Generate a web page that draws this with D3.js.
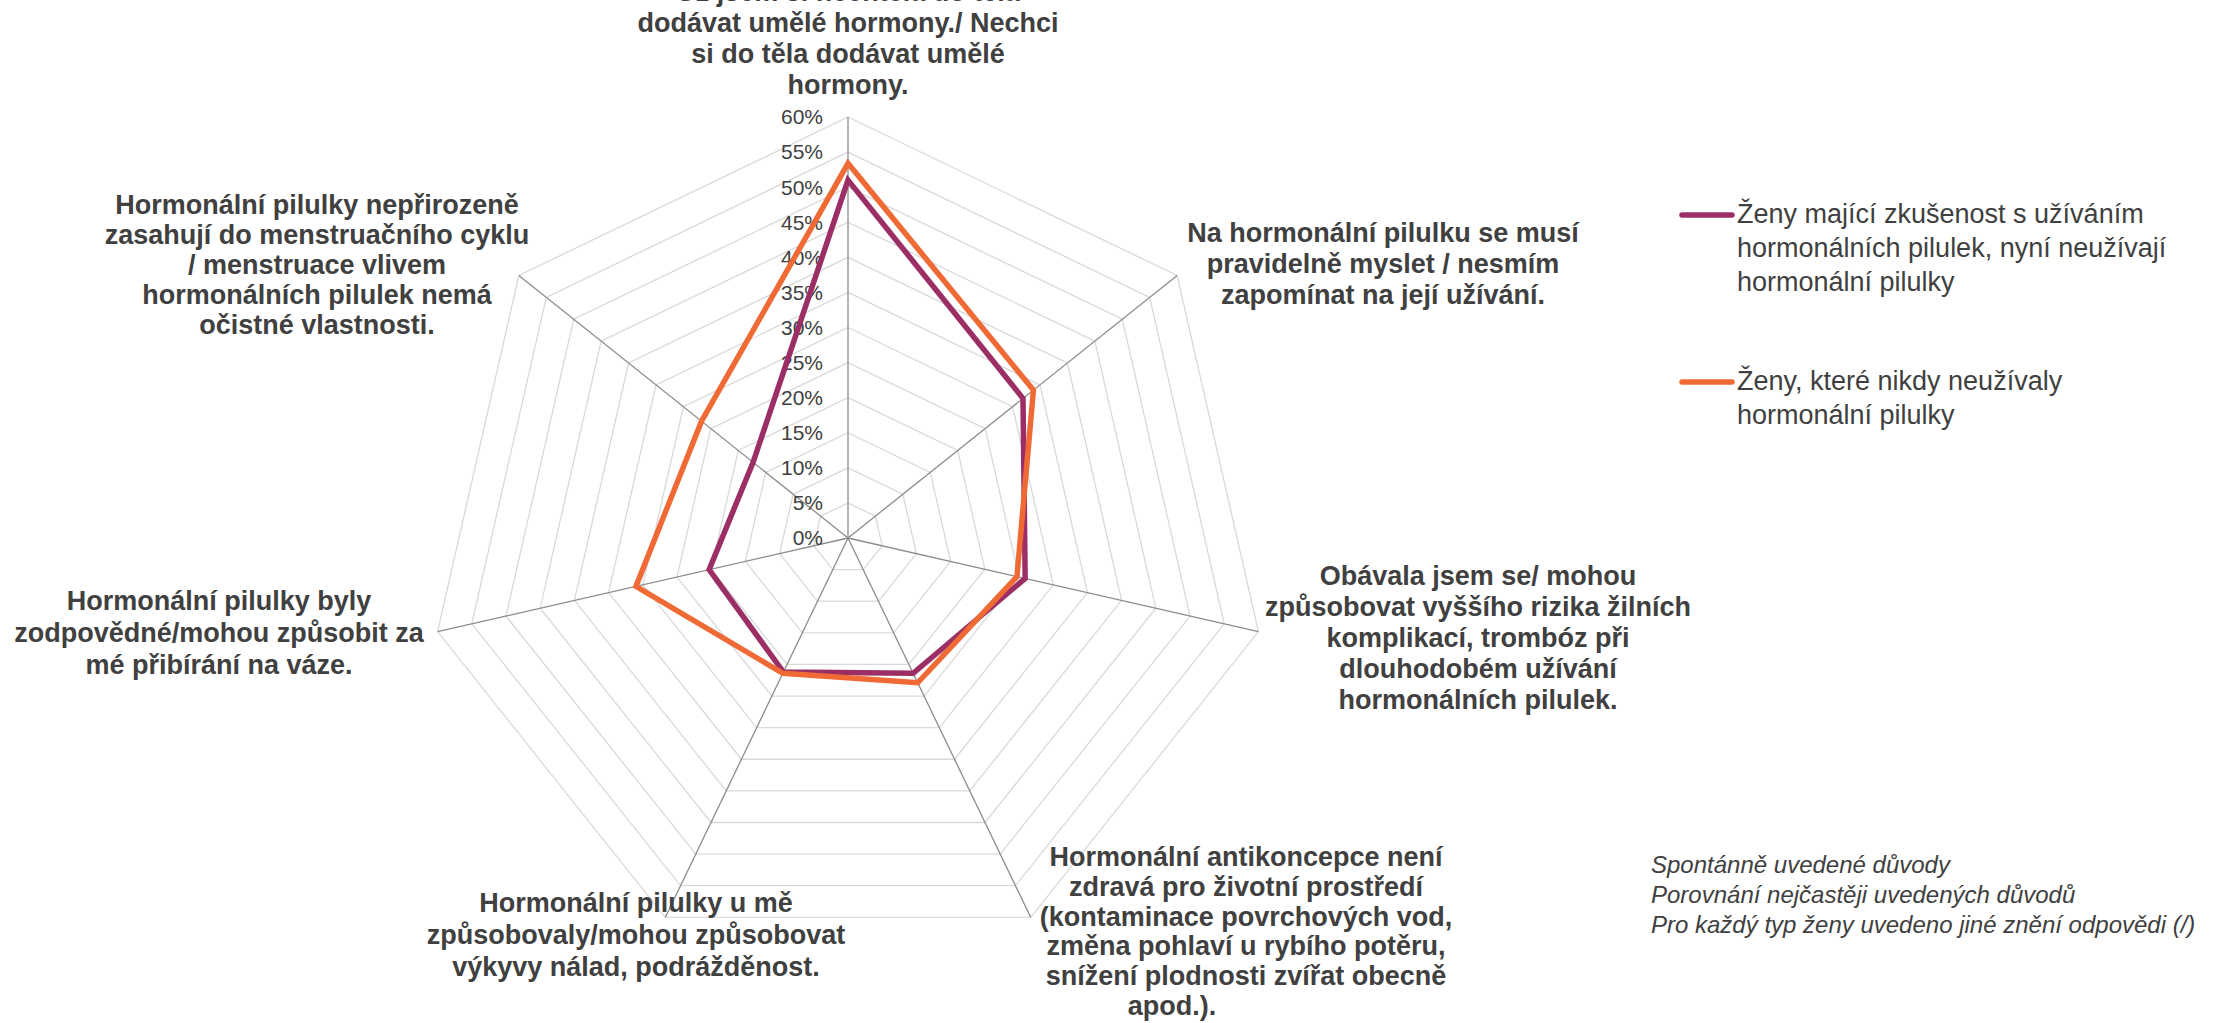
<!DOCTYPE html>
<html>
<head>
<meta charset="utf-8">
<script src="https://cdn.jsdelivr.net/npm/d3@7"></script>
<style>
  html, body { margin: 0; padding: 0; background: #fff; }
  svg { display: block; }
  text { font-family: "Liberation Sans", Arial, sans-serif; fill: #404040; }
</style>
</head>
<body>
<svg id="chart" width="2216" height="1023"></svg>
<script>
// ---------- DATA ----------
const categories = [
  ["Už jsem si nechtěla do těla", "dodávat umělé hormony./ Nechci", "si do těla dodávat umělé", "hormony."],
  ["Na hormonální pilulku se musí", "pravidelně myslet / nesmím", "zapomínat na její užívání."],
  ["Obávala jsem se/ mohou", "způsobovat vyššího rizika žilních", "komplikací, trombóz při", "dlouhodobém užívání", "hormonálních pilulek."],
  ["Hormonální antikoncepce není", "zdravá pro životní prostředí", "(kontaminace povrchových vod,", "změna pohlaví u rybího potěru,", "snížení plodnosti zvířat obecně", "apod.)."],
  ["Hormonální pilulky u mě", "způsobovaly/mohou způsobovat", "výkyvy nálad, podrážděnost."],
  ["Hormonální pilulky byly", "zodpovědné/mohou způsobit za", "mé přibírání na váze."],
  ["Hormonální pilulky nepřirozeně", "zasahují do menstruačního cyklu", "/ menstruace vlivem", "hormonálních pilulek nemá", "očistné vlastnosti."]
];
const seriesNames = [
  ["Ženy mající zkušenost s užíváním", "hormonálních pilulek, nyní neužívají", "hormonální pilulky"],
  ["Ženy, které nikdy neužívaly", "hormonální pilulky"]
];
const seriesPast  = [0.510, 0.319, 0.259, 0.214, 0.212, 0.203, 0.173];
const seriesNever = [0.534, 0.338, 0.247, 0.229, 0.214, 0.310, 0.267];
const tickValues = [0, 0.05, 0.10, 0.15, 0.20, 0.25, 0.30, 0.35, 0.40, 0.45, 0.50, 0.55, 0.60];
const notes = [
  "Spontánně uvedené důvody",
  "Porovnání nejčastěji uvedených důvodů",
  "Pro každý typ ženy uvedeno jiné znění odpovědi (/)"
];

// ---------- LAYOUT ----------
const colors = ["#9b2f65", "#f06a35"];
const cx = 848, cy = 538, R = 421;
const labelLayout = [
  {x: 848,  y: 0.5, lh: 31,   dxLast: 0},
  {x: 1383, y: 242, lh: 31,   dxLast: 0},
  {x: 1478, y: 585, lh: 31,   dxLast: 0},
  {x: 1246, y: 866, lh: 29.8, dxLast: -74},
  {x: 636,  y: 912, lh: 32,   dxLast: 0},
  {x: 219,  y: 610, lh: 32,   dxLast: 0},
  {x: 317,  y: 214, lh: 30,   dxLast: 0}
];

const svg = d3.select("#chart");
const g = svg.append("g").attr("transform", `translate(${cx},${cy})`);

const r = d3.scaleLinear().domain([0, 0.6]).range([0, R]);
const n = categories.length;
const angle = d3.scaleLinear().domain([0, n]).range([0, 2 * Math.PI]);
const px = (i, v) => r(v) * Math.sin(angle(i));
const py = (i, v) => -r(v) * Math.cos(angle(i));

// grid rings
const idx = d3.range(n);
tickValues.slice(1).forEach(t => {
  g.append("path")
    .attr("d", d3.line()(idx.map(i => [px(i, t), py(i, t)])) + "Z")
    .attr("fill", "none")
    .attr("stroke", "#d9d9d9")
    .attr("stroke-width", 1.3);
});
// spokes
idx.forEach(i => {
  g.append("line")
    .attr("x1", 0).attr("y1", 0)
    .attr("x2", px(i, 0.6)).attr("y2", py(i, 0.6))
    .attr("stroke", "#8c8c8c")
    .attr("stroke-width", 1.3);
});

// tick labels
g.selectAll("text.tick")
  .data(tickValues)
  .join("text")
  .attr("class", "tick")
  .attr("x", -25)
  .attr("y", d => -r(d))
  .attr("dy", "0.35em")
  .attr("text-anchor", "end")
  .style("font-size", "21px")
  .text(d => d3.format(".0%")(d));

// series
const radial = d3.lineRadial()
  .angle((d, i) => angle(i))
  .radius(d => r(d))
  .curve(d3.curveLinearClosed);

[seriesPast, seriesNever].forEach((s, k) => {
  g.append("path")
    .attr("d", radial(s))
    .attr("fill", "none")
    .attr("stroke", colors[k])
    .attr("stroke-width", 5.5)
    .attr("stroke-linejoin", "miter");
});

// category labels
categories.forEach((lines, i) => {
  const L = labelLayout[i];
  const t = svg.append("text")
    .attr("text-anchor", "middle")
    .style("font-size", "27px")
    .style("font-weight", "bold");
  lines.forEach((ln, j) => {
    t.append("tspan")
      .attr("x", L.x + (j === lines.length - 1 ? L.dxLast : 0))
      .attr("y", L.y + j * L.lh)
      .text(ln);
  });
});

// legend
const legendY = [215, 382];
seriesNames.forEach((lines, k) => {
  svg.append("line")
    .attr("x1", 1682).attr("x2", 1732)
    .attr("y1", legendY[k]).attr("y2", legendY[k])
    .attr("stroke", colors[k])
    .attr("stroke-width", 5.5)
    .attr("stroke-linecap", "round");
  const t = svg.append("text").style("font-size", "27px");
  lines.forEach((ln, j) => {
    t.append("tspan")
      .attr("x", 1737)
      .attr("y", legendY[k] + 8 + j * 34)
      .text(ln);
  });
});

// notes
const nt = svg.append("text").style("font-size", "24px").style("font-style", "italic");
notes.forEach((ln, j) => {
  nt.append("tspan").attr("x", 1651).attr("y", 873 + j * 30).text(ln);
});
</script>
</body>
</html>
